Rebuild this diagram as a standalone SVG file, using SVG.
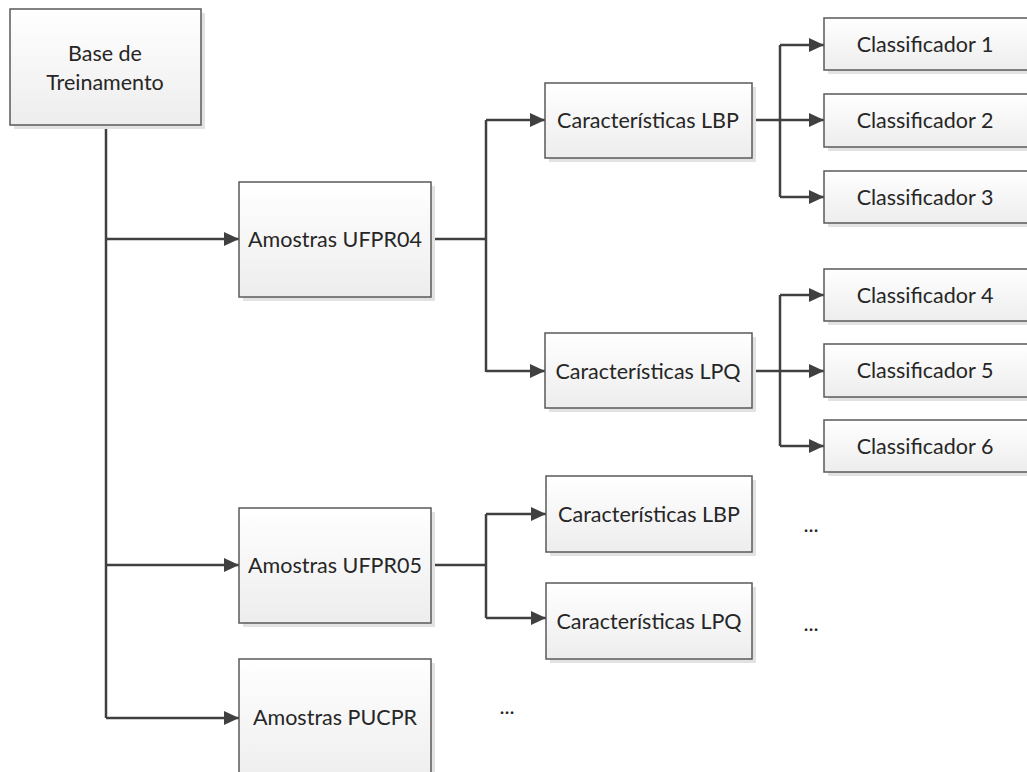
<svg xmlns="http://www.w3.org/2000/svg" width="1027" height="772" viewBox="0 0 1027 772">
<defs>
<linearGradient id="g" x1="0" y1="0" x2="0" y2="1"><stop offset="0" stop-color="#ffffff"/><stop offset="1" stop-color="#ededed"/></linearGradient>
<marker id="ah" markerWidth="16" markerHeight="14" refX="15" refY="7" orient="auto" markerUnits="userSpaceOnUse"><path d="M0,0 L15,7 L0,14 Z" fill="#404040"/></marker>
<style>
.b{fill:url(#g);stroke:#5a5a5a;stroke-width:1.5}
.s{fill:#e2e2e2}
.t{font-family:Lato,"Liberation Sans",sans-serif;font-size:21.5px;fill:#262626;text-anchor:middle;dominant-baseline:central}
.c{fill:none;stroke:#404040;stroke-width:2.5}
.a{marker-end:url(#ah)}
</style>
</defs>
<rect width="1027" height="772" fill="#fff"/>
<g id="connectors">
<path class="c" d="M106,125 V718"/>
<path class="c a" d="M106,239 H239"/>
<path class="c a" d="M106,565 H239"/>
<path class="c a" d="M106,718 H239"/>
<path class="c" d="M431,239 H486 M486,120 V372"/>
<path class="c a" d="M486,120 H545"/>
<path class="c a" d="M486,371 H545"/>
<path class="c" d="M752,120 H780 M780,45 V197"/>
<path class="c a" d="M780,45 H824"/>
<path class="c a" d="M780,120 H824"/>
<path class="c a" d="M780,197 H824"/>
<path class="c" d="M752,371 H780 M780,295 V446"/>
<path class="c a" d="M780,295 H824"/>
<path class="c a" d="M780,371 H824"/>
<path class="c a" d="M780,446 H824"/>
<path class="c" d="M431,565 H486 M486,514 V618"/>
<path class="c a" d="M486,514 H546"/>
<path class="c a" d="M486,618 H546"/>
</g>
<g id="base"><rect class="s" x="14" y="13" width="191" height="116"/><rect class="b" x="10" y="9" width="191" height="116"/><text class="t" x="105" y="53">Base de</text><text class="t" x="105" y="82">Treinamento</text></g>
<g id="ufpr04"><rect class="s" x="243" y="186" width="192" height="115"/><rect class="b" x="239" y="182" width="192" height="115"/><text class="t" x="335" y="239">Amostras UFPR04</text></g>
<g id="ufpr05"><rect class="s" x="243" y="512" width="192" height="115"/><rect class="b" x="239" y="508" width="192" height="115"/><text class="t" x="335" y="565">Amostras UFPR05</text></g>
<g id="pucpr"><rect class="s" x="243" y="663" width="192" height="115"/><rect class="b" x="239" y="659" width="192" height="125"/><text class="t" x="335" y="717">Amostras PUCPR</text></g>
<g id="lbp1"><rect class="s" x="549" y="87" width="207" height="75"/><rect class="b" x="545" y="83" width="207" height="75"/><text class="t" x="648" y="120">Características LBP</text></g>
<g id="lpq1"><rect class="s" x="549" y="337" width="207" height="75"/><rect class="b" x="545" y="333" width="207" height="75"/><text class="t" x="648" y="371">Características LPQ</text></g>
<g id="lbp2"><rect class="s" x="550" y="480" width="206" height="76"/><rect class="b" x="546" y="476" width="206" height="76"/><text class="t" x="649" y="514">Características LBP</text></g>
<g id="lpq2"><rect class="s" x="550" y="587" width="206" height="76"/><rect class="b" x="546" y="583" width="206" height="76"/><text class="t" x="649" y="621">Características LPQ</text></g>
<g id="c1"><rect class="s" x="828" y="22" width="210" height="52"/><rect class="b" x="824" y="18" width="210" height="52"/><text class="t" x="925" y="44">Classificador 1</text></g>
<g id="c2"><rect class="s" x="828" y="98" width="210" height="53"/><rect class="b" x="824" y="94" width="210" height="53"/><text class="t" x="925" y="120">Classificador 2</text></g>
<g id="c3"><rect class="s" x="828" y="175" width="210" height="52"/><rect class="b" x="824" y="171" width="210" height="52"/><text class="t" x="925" y="197">Classificador 3</text></g>
<g id="c4"><rect class="s" x="828" y="273" width="210" height="52"/><rect class="b" x="824" y="269" width="210" height="52"/><text class="t" x="925" y="295">Classificador 4</text></g>
<g id="c5"><rect class="s" x="828" y="348" width="210" height="53"/><rect class="b" x="824" y="344" width="210" height="53"/><text class="t" x="925" y="370">Classificador 5</text></g>
<g id="c6"><rect class="s" x="828" y="424" width="210" height="52"/><rect class="b" x="824" y="420" width="210" height="52"/><text class="t" x="925" y="446">Classificador 6</text></g>
<g id="dots"><text class="t" x="811" y="524">...</text><text class="t" x="811" y="623">...</text><text class="t" x="507" y="706">...</text></g>
</svg>
